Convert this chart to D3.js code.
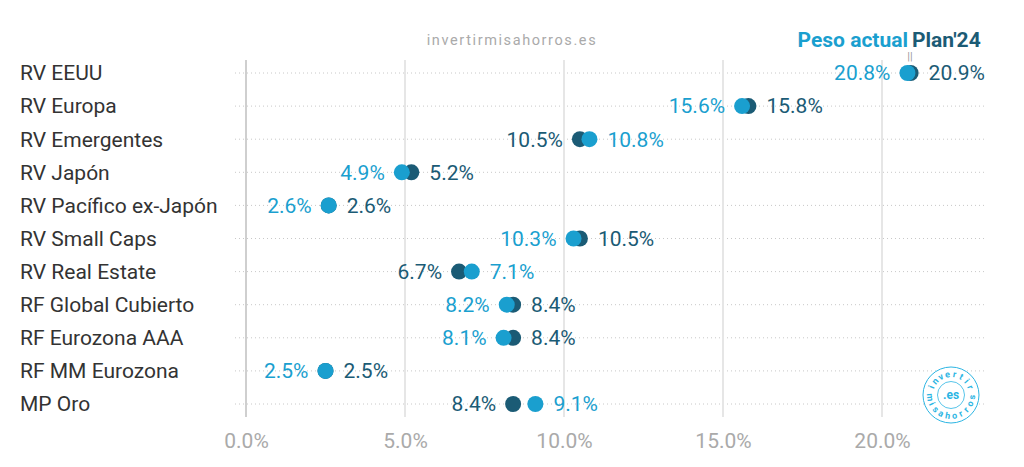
<!DOCTYPE html>
<html><head><meta charset="utf-8">
<script src="https://cdn.jsdelivr.net/npm/d3@7"></script>
<style>
html,body{margin:0;padding:0;background:#fff;}
svg{display:block;font-family:Roboto,"Noto Sans",sans-serif;}
</style></head>
<body><svg id="c" width="1024" height="467"></svg>
<script>
const categories = ["RV EEUU","RV Europa","RV Emergentes","RV Japón","RV Pacífico ex-Japón","RV Small Caps","RV Real Estate","RF Global Cubierto","RF Eurozona AAA","RF MM Eurozona","MP Oro"];
const pesoActual = [20.8,15.6,10.8,4.9,2.6,10.3,7.1,8.2,8.1,2.5,9.1];
const plan24 = [20.9,15.8,10.5,5.2,2.6,10.5,6.7,8.4,8.4,2.5,8.4];
const xTicks = [0,5,10,15,20];
const seriesNames = ["Peso actual","Plan'24"];

const LIGHT = "#1a9fcf", DARK = "#1b5b75";
const svg = d3.select("#c");
const x = d3.scaleLinear().domain([0,20]).range([246,882]);
const y = d3.scalePoint().domain(categories).range([73,404]);

// watermark
svg.append("text").attr("x",512).attr("y",45).attr("text-anchor","middle")
  .attr("font-size",14.5).attr("letter-spacing","1.6px").attr("fill","#aaa").text("invertirmisahorros.es");

// row dotted lines
svg.append("g").selectAll("line").data(categories).join("line")
  .attr("x1",235).attr("x2",985).attr("y1",d=>y(d)).attr("y2",d=>y(d))
  .attr("stroke","#c8c8c8").attr("stroke-width",1).attr("stroke-dasharray","1,3");

// vertical grid
svg.append("g").selectAll("line").data(xTicks).join("line")
  .attr("x1",d=>x(d)).attr("x2",d=>x(d)).attr("y1",60).attr("y2",417)
  .attr("stroke",d=>d===0?"#cfcfcf":"#e6e6e6").attr("stroke-width",2);

// x axis
const xAxis = d3.axisBottom(x).tickValues(xTicks).tickSize(0).tickPadding(0).tickFormat(d=>d.toFixed(1)+"%");
const ax = svg.append("g").attr("transform","translate(0,448)").call(xAxis);
ax.select(".domain").remove();
ax.selectAll("text").attr("font-size",21).attr("fill","#aaa").attr("font-family","Roboto").attr("dy",0);

// category labels
svg.append("g").selectAll("text").data(categories).join("text")
  .attr("x",20).attr("y",d=>y(d)).attr("dy","0.35em").attr("font-size",21).attr("fill","#333").text(d=>d);

const rows = categories.map((c,i)=>({c,a:pesoActual[i],p:plan24[i]}));
// dots: plan first (dark), then actual (light) on top
const g = svg.append("g");
g.selectAll("circle.p").data(rows).join("circle").attr("class","p")
  .attr("cx",d=>x(d.p)).attr("cy",d=>y(d.c)).attr("r",8).attr("fill",DARK);
g.selectAll("circle.a").data(rows).join("circle").attr("class","a")
  .attr("cx",d=>x(d.a)).attr("cy",d=>y(d.c)).attr("r",8).attr("fill",LIGHT);

// labels
const fmt = v=>v.toFixed(1)+"%";
const lbl = svg.append("g").attr("font-size",21);
rows.forEach(d=>{
  const aLeft = d.a <= d.p;
  const lo = Math.min(d.a,d.p), hi = Math.max(d.a,d.p);
  lbl.append("text").attr("x",x(lo)-17).attr("y",y(d.c)).attr("dy","0.35em").attr("text-anchor","end")
    .attr("fill",aLeft?LIGHT:DARK).text(fmt(aLeft?d.a:d.p));
  lbl.append("text").attr("x",x(hi)+18).attr("y",y(d.c)).attr("dy","0.35em").attr("text-anchor","start")
    .attr("fill",aLeft?DARK:LIGHT).text(fmt(aLeft?d.p:d.a));
});

// legend header
const lg = svg.append("g").attr("font-size",21).attr("font-weight","bold");
lg.append("text").attr("x",908).attr("y",47).attr("text-anchor","end").attr("fill",LIGHT).text(seriesNames[0]);
lg.append("text").attr("x",912).attr("y",47).attr("text-anchor","start").attr("fill",DARK).text(seriesNames[1]);
svg.append("text").attr("x",910).attr("y",60).attr("text-anchor","middle").attr("font-size",11).attr("fill","#999").text("||");

// logo (letters placed one by one around the ring)
const LC = "#2bb5e3";
const logo = svg.append("g").attr("transform","translate(951,395)");
logo.append("circle").attr("r",28).attr("fill","#fff").attr("stroke",LC).attr("stroke-width",1);
logo.append("circle").attr("r",13.5).attr("fill","none").attr("stroke",LC).attr("stroke-width",0.8);
const logoTop = "invertir".split(""), logoBot = "misahorros".split("");
const aTop = 68, aBot = 84, rT = 21, rB = 21;
logo.selectAll("text.t").data(logoTop).join("text").attr("class","t")
  .attr("font-size",9).attr("font-weight","bold").attr("fill",LC)
  .attr("text-anchor","middle").attr("dominant-baseline","central")
  .attr("transform",(c,i)=>{const t=-aTop+i*2*aTop/(logoTop.length-1);const r=t*Math.PI/180;
    return `translate(${rT*Math.sin(r)},${-rT*Math.cos(r)}) rotate(${t})`;})
  .text(c=>c);
logo.selectAll("text.b").data(logoBot).join("text").attr("class","b")
  .attr("font-size",9).attr("font-weight","bold").attr("fill",LC)
  .attr("text-anchor","middle").attr("dominant-baseline","central")
  .attr("transform",(c,i)=>{const t=-aBot+i*2*aBot/(logoBot.length-1);const r=t*Math.PI/180;
    return `translate(${rB*Math.sin(r)},${rB*Math.cos(r)}) rotate(${-t})`;})
  .text(c=>c);
logo.append("text").attr("y",4).attr("text-anchor","middle").attr("font-size",12).attr("font-weight","bold").attr("fill",LC).text(".es");
</script></body></html>
